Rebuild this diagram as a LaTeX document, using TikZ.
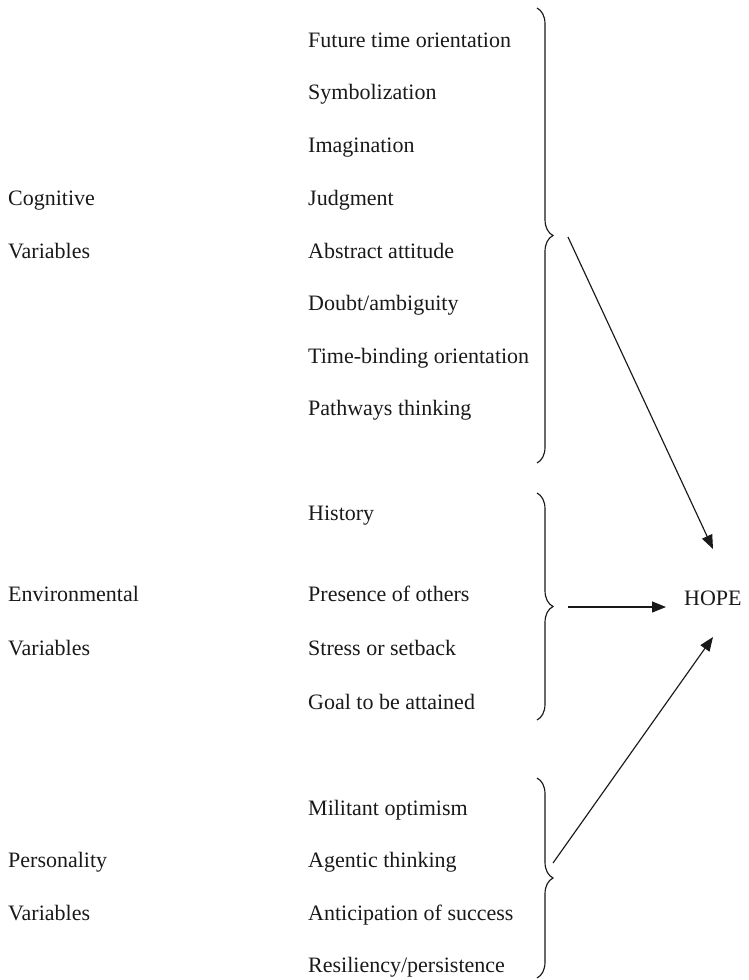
\documentclass[tikz,border=0pt]{standalone}
\usepackage{fontspec}
\setmainfont{Liberation Serif}
\usetikzlibrary{decorations.pathreplacing,arrows.meta}
\tikzset{
  x=1pt, y=-1pt,
  lbl/.style={anchor=base west, inner sep=0pt, font=\fontsize{22}{26}\selectfont, text=black!90},
  bracestyle/.style={decorate, decoration={brace, amplitude=16pt}, line width=1.15pt, black!90},
  arr/.style={line width=1.15pt, black!90, -{Triangle[length=14pt,width=11pt]}}
}
\begin{document}
\begin{tikzpicture}
\useasboundingbox (0,0) rectangle (748,980);
% left labels
\node[lbl] (cog1) at (8,205) {Cognitive};
\node[lbl] (cog2) at (8,258) {Variables};
\node[lbl] (env1) at (8,601) {Environmental};
\node[lbl] (env2) at (8,655) {Variables};
\node[lbl] (per1) at (8,867) {Personality};
\node[lbl] (per2) at (8,920) {Variables};
% cognitive items
\node[lbl] (c1) at (308,47) {Future time orientation};
\node[lbl] (c2) at (308,99) {Symbolization};
\node[lbl] (c3) at (308,152) {Imagination};
\node[lbl] (c4) at (308,205) {Judgment};
\node[lbl] (c5) at (308,258) {Abstract attitude};
\node[lbl] (c6) at (308,310) {Doubt/ambiguity};
\node[lbl] (c7) at (308,363) {Time-binding orientation};
\node[lbl] (c8) at (308,415) {Pathways thinking};
% environmental items
\node[lbl] (e1) at (308,520) {History};
\node[lbl] (e2) at (308,601) {Presence of others};
\node[lbl] (e3) at (308,655) {Stress or setback};
\node[lbl] (e4) at (308,709) {Goal to be attained};
% personality items
\node[lbl] (p1) at (308,815) {Militant optimism};
\node[lbl] (p2) at (308,867) {Agentic thinking};
\node[lbl] (p3) at (308,920) {Anticipation of success};
\node[lbl] (p4) at (308,972) {Resiliency/persistence};
% HOPE
\node[lbl] (hope) at (684,605) {HOPE};
% braces
\coordinate (cbt) at (537,8);   \coordinate (cbb) at (537,463);
\coordinate (ebt) at (537,493); \coordinate (ebb) at (537,720);
\coordinate (pbt) at (537,778); \coordinate (pbb) at (537,978);
\draw[bracestyle] (cbt) -- (cbb);
\draw[bracestyle] (ebt) -- (ebb);
\draw[bracestyle] (pbt) -- (pbb);
% arrows
\coordinate (cs) at (568,237);  \coordinate (ce) at (713,549);
\coordinate (es) at (568,607);  \coordinate (ee) at (666,607);
\coordinate (ps) at (553,863);  \coordinate (pe) at (713,637);
\draw[arr] (cs) -- (ce);
\draw[arr] (es) -- (ee);
\draw[arr] (ps) -- (pe);
\end{tikzpicture}
\end{document}
